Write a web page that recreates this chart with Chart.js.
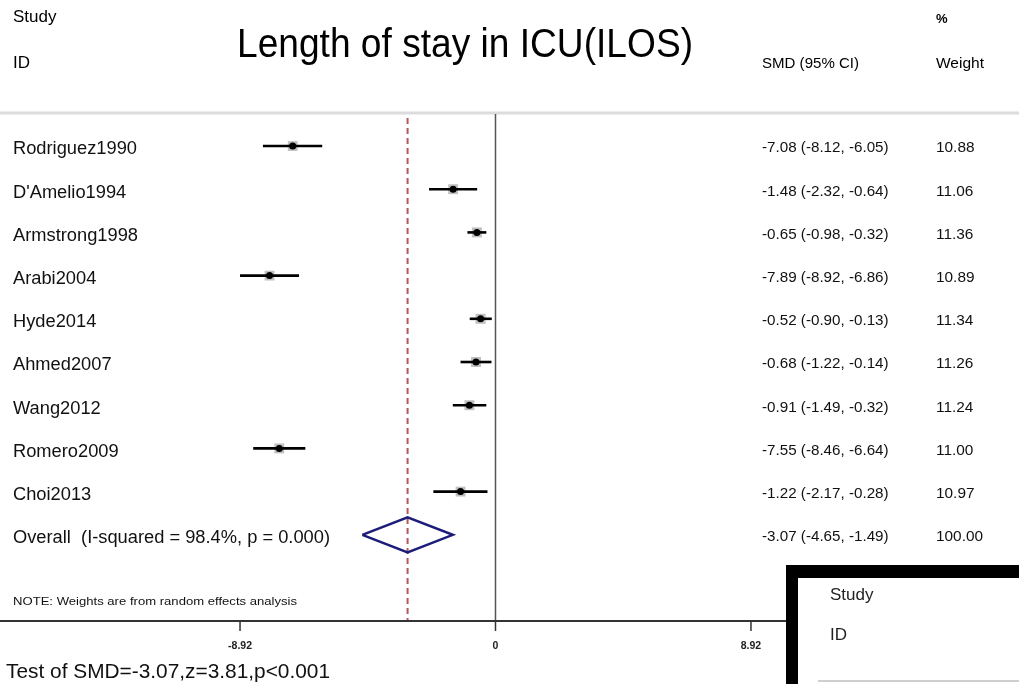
<!DOCTYPE html>
<html>
<head>
<meta charset="utf-8">
<script src="https://cdn.jsdelivr.net/npm/chart.js@4.4.1/dist/chart.umd.min.js"></script>
<style>
  html, body { margin: 0; padding: 0; background: #fff; overflow: hidden; }
  #wrap { position: relative; width: 1019px; height: 684px; }
</style>
</head>
<body>
<div id="wrap"><canvas id="c"></canvas></div>
<script>
// ---------------- DATA ----------------
const studies = ["Rodriguez1990", "D'Amelio1994", "Armstrong1998", "Arabi2004", "Hyde2014",
                 "Ahmed2007", "Wang2012", "Romero2009", "Choi2013"];
const smd     = [-7.08, -1.48, -0.65, -7.89, -0.52, -0.68, -0.91, -7.55, -1.22];
const ciLow   = [-8.12, -2.32, -0.98, -8.92, -0.90, -1.22, -1.49, -8.46, -2.17];
const ciHigh  = [-6.05, -0.64, -0.32, -6.86, -0.13, -0.14, -0.32, -6.64, -0.28];
const weights = [10.88, 11.06, 11.36, 10.89, 11.34, 11.26, 11.24, 11.00, 10.97];
const overallLabel = "Overall  (I-squared = 98.4%, p = 0.000)";
const overallSmd = -3.07;
const overallLow = -4.65;
const overallHigh = -1.49;
const overallWeight = 100.00;
const xTicks = [-8.92, 0, 8.92];
const xTickLabels = ["-8.92", "0", "8.92"];

const FONT = '"Liberation Sans", Arial, Helvetica, sans-serif';
const Y_MIN = -0.7407, Y_MAX = 10.995;
const X_MIN = -17.301, X_MAX = 18.279;

function fmt(v) { return v.toFixed(2); }

// ---------------- DATASETS ----------------
const datasets = [];
datasets.push({
  label: 'zero', data: [{x: 0, y: Y_MIN}, {x: 0, y: Y_MAX}],
  showLine: true, borderColor: '#555', borderWidth: 1.5, pointRadius: 0, order: 5
});
datasets.push({
  label: 'overall-line', data: [{x: overallSmd, y: -0.65}, {x: overallSmd, y: Y_MAX}],
  showLine: true, borderColor: '#b8545c', borderWidth: 2, borderDash: [6, 4], pointRadius: 0, order: 4
});
datasets.push({
  label: 'weights',
  data: smd.map((v, i) => ({x: v, y: i})),
  pointStyle: 'rect',
  pointRadius: weights.map(w => 2.1 * Math.sqrt(w)),
  backgroundColor: 'rgba(165,165,165,0.7)',
  borderWidth: 0,
  order: 3
});
studies.forEach((s, i) => {
  datasets.push({
    label: 'ci-' + s,
    data: [{x: ciLow[i], y: i}, {x: ciHigh[i], y: i}],
    showLine: true, borderColor: '#000', borderWidth: 2.6, pointRadius: 0, order: 2
  });
});
datasets.push({
  label: 'estimates',
  data: smd.map((v, i) => ({x: v, y: i})),
  pointStyle: 'circle', pointRadius: 3.5,
  backgroundColor: '#000', borderColor: '#000', borderWidth: 0,
  order: 0
});
const oy = studies.length;
datasets.push({
  label: 'diamond',
  data: [{x: overallLow, y: oy}, {x: overallSmd, y: oy - 0.405}, {x: overallHigh, y: oy},
         {x: overallSmd, y: oy + 0.405}, {x: overallLow, y: oy}],
  showLine: true, borderColor: '#1c1c7a', borderWidth: 2.5, pointRadius: 0, tension: 0, order: 1
});

// ---------------- DECORATION PLUGIN ----------------
function txt(ctx, s, x, y, size, opt) {
  opt = opt || {};
  ctx.save();
  ctx.font = (opt.weight || 'normal') + ' ' + size + 'px ' + FONT;
  ctx.fillStyle = opt.color || '#111';
  ctx.textBaseline = 'alphabetic';
  ctx.textAlign = opt.align || 'left';
  if (opt.width) {
    const w = ctx.measureText(s).width;
    ctx.translate(x, y);
    ctx.scale(opt.width / w, 1);
    ctx.fillText(s, 0, 0);
  } else {
    ctx.fillText(s, x, y);
  }
  ctx.restore();
}

const decor = {
  id: 'decor',
  beforeDatasetsDraw(chart) {
    const ctx = chart.ctx;
    ctx.save();
    ctx.strokeStyle = '#dcdcdc';
    ctx.lineWidth = 3;
    ctx.beginPath(); ctx.moveTo(0, 113); ctx.lineTo(1019, 113); ctx.stroke();
    ctx.restore();
  },
  afterDatasetsDraw(chart) {
    const ctx = chart.ctx;
    const xs = chart.scales.x, ys = chart.scales.y;
    txt(ctx, 'Study', 13, 22, 17, {color: '#000'});
    txt(ctx, 'ID', 13, 68, 17, {color: '#000'});
    txt(ctx, 'Length of stay in ICU(ILOS)', 237, 57, 40, {color: '#000', width: 456});
    txt(ctx, 'SMD (95% CI)', 762, 68, 15, {color: '#000', width: 97});
    txt(ctx, '%', 936, 23, 13, {color: '#000', weight: 'bold'});
    txt(ctx, 'Weight', 936, 68, 15, {color: '#000', width: 48});
    studies.forEach((s, i) => {
      const py = ys.getPixelForValue(i);
      txt(ctx, s, 13, py + 8.3, 18.3, {color: '#111'});
      txt(ctx, fmt(smd[i]) + ' (' + fmt(ciLow[i]) + ', ' + fmt(ciHigh[i]) + ')', 762, py + 6.3, 15.2, {color: '#111'});
      txt(ctx, fmt(weights[i]), 936, py + 6.3, 15.4, {color: '#111'});
    });
    const pyo = ys.getPixelForValue(oy);
    txt(ctx, overallLabel, 13, pyo + 8.3, 18.3, {color: '#111', width: 317});
    txt(ctx, fmt(overallSmd) + ' (' + fmt(overallLow) + ', ' + fmt(overallHigh) + ')', 762, pyo + 6.3, 15.2, {color: '#111'});
    txt(ctx, fmt(overallWeight), 936, pyo + 6.3, 15.4, {color: '#111'});
    txt(ctx, 'NOTE: Weights are from random effects analysis', 13, 605, 10.5, {color: '#111', width: 284});
    const axisY = 621;
    ctx.save();
    ctx.strokeStyle = '#333';
    ctx.lineWidth = 2;
    ctx.beginPath(); ctx.moveTo(0, axisY); ctx.lineTo(790, axisY); ctx.stroke();
    ctx.lineWidth = 1.5;
    xTicks.forEach((t, k) => {
      const px = xs.getPixelForValue(t);
      ctx.beginPath(); ctx.moveTo(px, axisY); ctx.lineTo(px, axisY + 10); ctx.stroke();
      txt(ctx, xTickLabels[k], px, 649, 10.5, {color: '#222', weight: 'bold', align: 'center'});
    });
    ctx.restore();
    txt(ctx, 'Test of SMD=-3.07,z=3.81,p<0.001', 6, 678, 20.7, {color: '#111', width: 324});
    ctx.save();
    ctx.fillStyle = '#000';
    ctx.fillRect(786, 565, 1019 - 786, 684 - 565);
    ctx.fillStyle = '#fff';
    ctx.fillRect(798, 578, 1019 - 798, 684 - 578);
    ctx.strokeStyle = '#cfcfcf';
    ctx.lineWidth = 2;
    ctx.beginPath(); ctx.moveTo(818, 681); ctx.lineTo(1019, 681); ctx.stroke();
    ctx.restore();
    txt(ctx, 'Study', 830, 600, 17, {color: '#222'});
    txt(ctx, 'ID', 830, 640, 17, {color: '#222'});
  }
};

// ---------------- CHART ----------------
new Chart(document.getElementById('c'), {
  type: 'scatter',
  data: { datasets },
  options: {
    responsive: true,
    maintainAspectRatio: false,
    animation: false,
    devicePixelRatio: 1,
    events: [],
    layout: { autoPadding: false, padding: { top: 114, bottom: 63, left: 0, right: 0 } },
    plugins: { legend: { display: false }, tooltip: { enabled: false }, title: { display: false } },
    scales: {
      x: { type: 'linear', min: X_MIN, max: X_MAX, display: false },
      y: { type: 'linear', min: Y_MIN, max: Y_MAX, reverse: true, display: false }
    }
  },
  plugins: [decor]
});
</script>
</body>
</html>
